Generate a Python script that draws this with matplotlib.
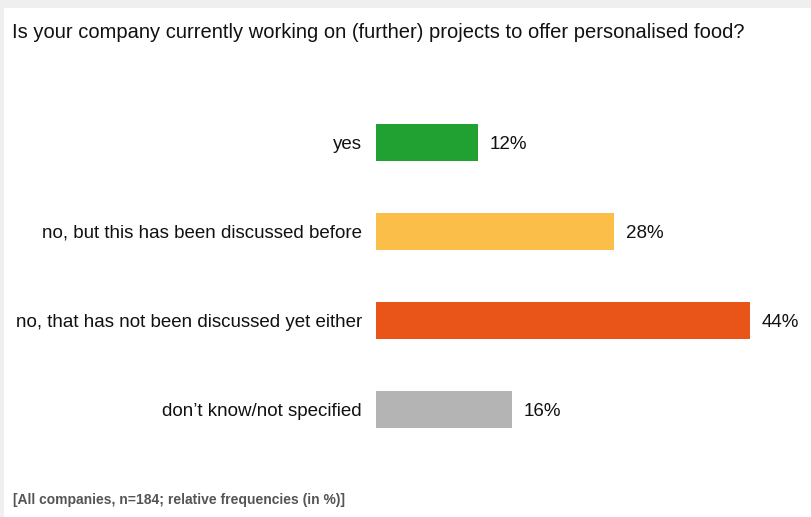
import matplotlib.pyplot as plt
from matplotlib.patches import Rectangle

plt.rcParams['font.family'] = ['Liberation Sans', 'DejaVu Sans']

categories = ['yes', 'no, but this has been discussed before',
              'no, that has not been discussed yet either', 'don\u2019t know/not specified']
values = [12, 28, 44, 16]
colors = ['#21a131', '#fbbe48', '#e95418', '#b4b4b4']

fig = plt.figure(figsize=(8.12, 5.17), dpi=100)

# light grey frame along top and left edge
fig.patches.append(Rectangle((0, 1 - 8 / 517), 1, 8 / 517, transform=fig.transFigure,
                             facecolor='#efefef', edgecolor='none', zorder=0))
fig.patches.append(Rectangle((0, 0), 4 / 812, 1, transform=fig.transFigure,
                             facecolor='#efefef', edgecolor='none', zorder=0))

ax = fig.add_axes([376 / 812, 1 - 454 / 517, 425 / 812, 356 / 517])
ypos = list(range(len(values)))
ax.barh(ypos, values, height=0.41, color=colors)
ax.set_xlim(0, 50)
ax.set_ylim(len(values) - 0.5, -0.5)

for y, v in zip(ypos, values):
    ax.text(v + 1.4, y, f'{v}%', va='center_baseline', ha='left', fontsize=13.5, color='#111111')

ax.set_yticks(ypos)
ax.set_yticklabels(categories, fontsize=13.5, color='#111111')
ax.tick_params(axis='y', length=0, pad=10)
ax.set_xticks([])
for s in ax.spines.values():
    s.set_visible(False)

fig.text(12 / 812, 1 - 33 / 517,
         'Is your company currently working on (further) projects to offer personalised food?',
         fontsize=14.5, va='center', ha='left', color='#111111')
fig.text(13 / 812, 1 - 500 / 517, '[All companies, n=184; relative frequencies (in %)]',
         fontsize=10, fontweight='bold', va='center', ha='left', color='#555555')

fig.savefig('out.png', dpi=100)
